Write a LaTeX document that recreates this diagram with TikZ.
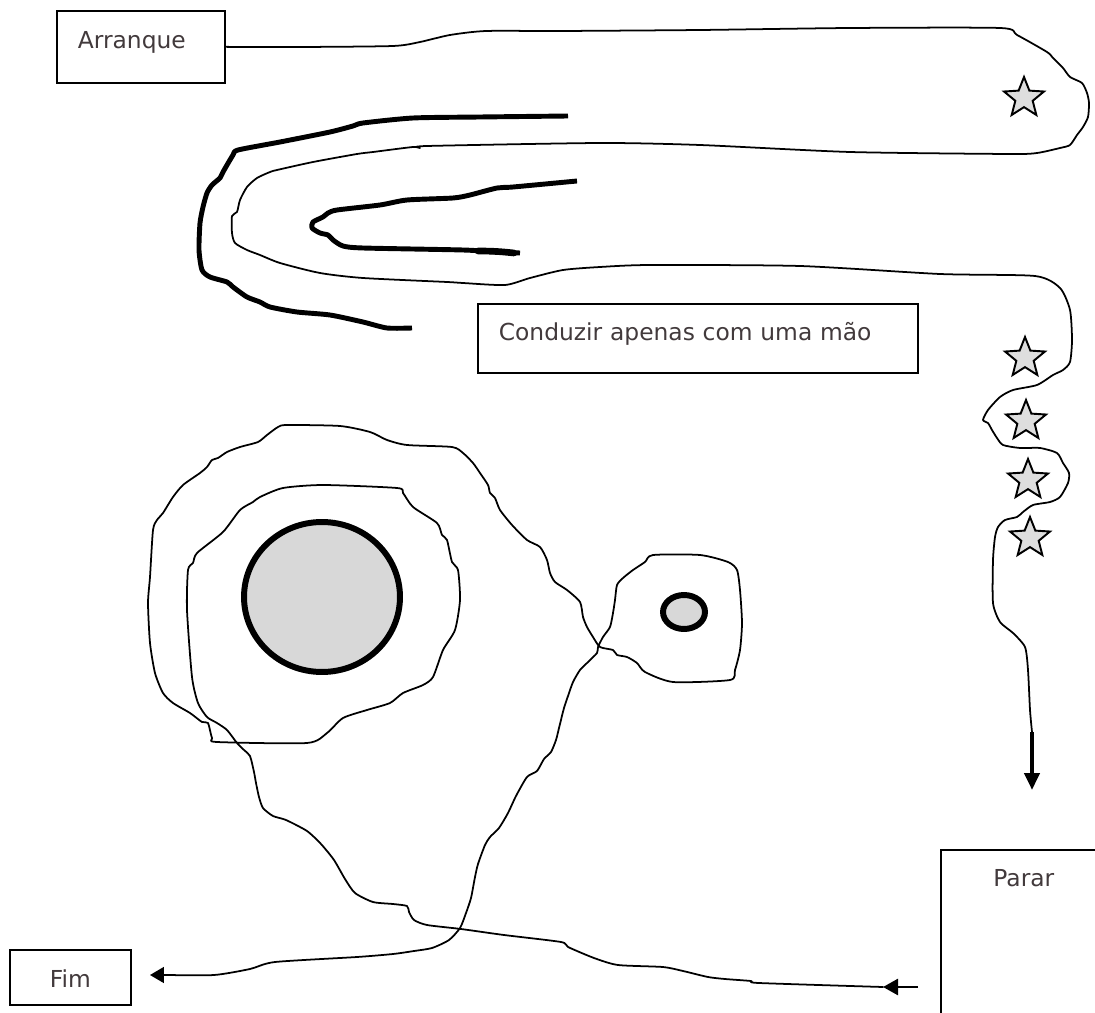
\documentclass[tikz,border=0pt]{standalone}
\usepackage{fontspec}
\setmainfont{DejaVu Sans}
\usetikzlibrary{arrows.meta,shapes.geometric}
\definecolor{labelgray}{RGB}{66,58,60}
\definecolor{pondgray}{RGB}{216,216,216}
\definecolor{conegray}{RGB}{222,222,222}

\begin{document}
\begin{tikzpicture}[
  x=0.02cm, y=-0.02cm,
  box/.style={rectangle, draw, line width=1pt, inner ysep=0pt, font=\fontsize{13.3}{15}\selectfont, text=labelgray, anchor=north west},
  route/.style={line width=1pt, line join=round, line cap=round},
  brush/.style={line width=2.8pt, line join=round},
  pond/.style={ellipse, draw, line width=3.4pt, fill=pondgray, inner sep=0pt},
  cone/.style={star, star points=5, star point ratio=2.3, draw, line width=1.1pt, fill=conegray, minimum size=0.84cm, inner sep=0pt},
  arrow/.style={-{Triangle[length=0.28cm, width=0.32cm]}},
]
\useasboundingbox (0,0) rectangle (1095,1013);
\clip (0,0) rectangle (1095,1013);

\node[box, inner xsep=0.42cm, text width=2.52cm, text height=0.76cm, text depth=0.68cm, align=left] (arranque) at (56,10) {Arranque};
\node[box, inner xsep=0.42cm, text width=7.96cm, text height=0.74cm, text depth=0.64cm, align=left] (conduzir) at (477,303) {Conduzir apenas com uma mão};
\node[box, inner xsep=0pt, text width=2.42cm, text height=0.76cm, text depth=0.34cm, align=center] (fim) at (9,949) {Fim};
\node[box, inner xsep=0pt, text width=3.32cm, text height=0.74cm, text depth=2.88cm, align=center] (parar) at (940,849) {Parar};

\node[pond, minimum width=3.12cm, minimum height=3.0cm] (bigpond) at (322,597) {};
\node[pond, minimum width=0.84cm, minimum height=0.68cm] (smallpond) at (684,612) {};

\node[cone] (cone1) at (1024,98) {};
\node[cone] (cone2) at (1025,358) {};
\node[cone] (cone3) at (1026,421) {};
\node[cone] (cone4) at (1028,480) {};
\node[cone] (cone5) at (1030,538) {};

\coordinate (downtop) at (1032,732);
\coordinate (downtip) at (1032,790);
\coordinate (pararstart) at (918,987);
\coordinate (parartip) at (883,987);
\coordinate (fimtip) at (150,975);

\draw[route] plot[smooth, tension=0.4] coordinates {(arranque.east) (300,47) (393,46) (420,42) (450,35) (486,31) (560,31) (700,30) (850,28) (1000,28) (1017,35) (1047,52) (1053,58) (1063,68) (1070,77) (1082,83) (1087,93) (1089,103) (1088,117) (1083,127) (1077,135) (1070,145) (1060,148) (1037,153) (1010,154) (850,152) (700,145) (600,143) (427,146) (420,148) (413,147) (373,152) (357,154) (313,162) (277,170) (270,172) (257,178) (247,187) (240,200) (237,212) (232,216) (232,233) (235,243) (247,250) (260,255) (280,263) (320,273) (363,278) (447,282) (463,283) (505,285) (530,278) (563,270) (600,267) (650,265) (800,266) (940,274) (1035,276) (1060,288) (1070,310) (1072,340) (1070,362) (1063,370) (1053,375) (1037,385) (1013,390) (1000,397) (988,410) (983,420) (988,423) (992,430) (997,438) (1003,445) (1020,448) (1040,448) (1057,453) (1063,463) (1069,473) (1068,483) (1060,497) (1050,502) (1033,505) (1023,512) (1017,517) (1005,520) (998,527) (995,537) (993,560) (993,603) (1000,622) (1013,633) (1025,647) (1028,670) (1030,710) (downtop)};
\draw[line width=2.3pt, -{Triangle[length=0.34cm, width=0.3cm]}] (downtop) -- (downtip);

\draw[brush] plot[smooth, tension=0.4] coordinates {(568,116) (480,117) (413,118) (363,123) (353,126) (330,132) (280,142) (238,150) (233,155) (223,172) (220,178) (212,185) (207,193) (203,207) (200,223) (199,250) (202,270) (210,277) (227,282) (233,287) (247,297) (260,302) (270,307) (297,312) (330,315) (363,322) (387,328) (412,328)};
\draw[brush] plot[smooth, tension=0.4] coordinates {(577,181) (513,187) (497,188) (470,195) (453,198) (407,200) (380,205) (337,210) (328,213) (323,217) (313,222) (312,228) (320,233) (328,235) (333,240) (343,246) (363,248) (463,250) (497,252) (520,253)};
\draw[line width=3.8pt, line cap=round] (478,251) to[bend left=3] (514,253);

\draw[line width=1.5pt, -{Triangle[length=0.3cm, width=0.32cm]}] (pararstart) -- (parartip);
\draw[route, arrow] plot[smooth, tension=0.4] coordinates {(parartip) (759,983) (751,981) (725,979) (708,977) (683,971) (663,967) (618,965) (594,958) (568,947) (561,942) (504,935) (461,929) (427,925) (414,920) (409,912) (407,906) (393,904) (373,902) (355,893) (345,879) (334,860) (321,844) (307,831) (286,820) (273,816) (263,808) (259,797) (256,783) (254,772) (250,756) (244,750) (237,743) (227,730) (217,723) (207,717) (198,703) (192,677) (187,610) (188,570) (193,563) (197,553) (223,532) (240,510) (253,502) (260,497) (283,488) (323,485) (397,488) (403,493) (413,507) (437,523) (442,535) (447,540) (452,562) (458,570) (460,600) (455,630) (443,650) (433,677) (423,685) (403,693) (390,703) (367,710) (343,718) (327,733) (307,743) (217,742) (212,738) (208,723) (202,722) (190,713) (173,703) (163,693) (155,673) (150,643) (148,603) (150,577) (153,530) (157,520) (163,513) (173,497) (183,485) (200,473) (207,467) (212,460) (218,458) (227,452) (240,447) (258,442) (267,435) (278,427) (287,425) (340,426) (370,432) (387,440) (407,445) (452,447) (463,453) (473,463) (480,473) (488,485) (490,493) (495,498) (500,510) (512,525) (527,540) (540,547) (547,560) (550,573) (555,582) (567,590) (580,602) (583,617) (587,627) (593,637) (600,647) (613,650) (617,655) (627,657) (637,663) (645,672) (673,682) (730,680) (735,670) (740,650) (742,623) (740,590) (737,570) (728,562) (700,555) (653,555) (645,562) (633,570) (623,578) (617,585) (615,600) (613,613) (610,627) (603,637) (598,647) (597,653) (587,663) (580,670) (573,682) (568,696) (564,708) (559,728) (556,740) (551,752) (544,759) (537,771) (527,777) (516,796) (508,813) (499,828) (490,837) (485,845) (478,864) (475,877) (471,898) (466,913) (460,928) (449,940) (432,948) (414,951) (393,954) (357,957) (275,962) (250,969) (214,975) (164,975) (fimtip)};
\end{tikzpicture}
\end{document}
